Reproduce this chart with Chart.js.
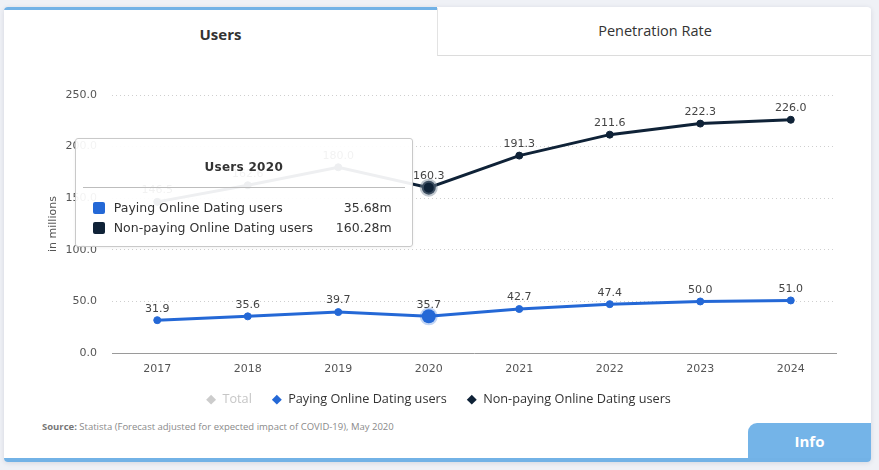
<!DOCTYPE html>
<html><head><meta charset="utf-8">
<script src="https://cdn.jsdelivr.net/npm/chart.js@4/dist/chart.umd.min.js"></script>
<style>
html,body{margin:0;padding:0;width:879px;height:470px;overflow:hidden;background:#eff1f6;font-family:'Open Sans',sans-serif;}
#card{position:absolute;left:4px;top:7px;width:867px;height:455px;background:#fff;border-radius:4px;box-shadow:0 1px 5px rgba(40,50,80,0.13);overflow:hidden;}
#tab1{position:absolute;left:0;top:0;width:433px;height:45px;border-top:3px solid #72b2e6;text-align:center;font-weight:700;font-size:15px;color:#333;line-height:48px;}
#tab2{position:absolute;left:433px;top:1px;width:434px;height:47px;border-left:1px solid #e3e3e3;border-bottom:1px solid #dcdcdc;text-align:center;font-size:14.5px;color:#333;line-height:46px;background:#fff;}
#bottom{position:absolute;left:0;bottom:0;width:867px;height:4px;background:#72b2e6;}
#info{position:absolute;right:0;bottom:4px;width:123px;height:35px;background:#74b4e8;border-top-left-radius:9px;color:#fff;font-weight:700;font-size:15px;text-align:center;line-height:37px;}
#source{position:absolute;left:42px;top:420px;font-size:9.5px;color:#8a8a8a;}
#source b{color:#777;font-weight:700;}
#wrap{position:absolute;left:0;top:55px;width:879px;height:365px;}
#tt{position:absolute;width:338px;box-sizing:border-box;background:rgba(255,255,255,0.93);border:1px solid #c9c9c9;border-radius:3px;padding:0 7px 8px 7px;font-family:'DejaVu Sans',sans-serif;color:#333;opacity:0;box-shadow:0 1px 3px rgba(0,0,0,0.06);}
#tt .t{margin-top:20px;line-height:16px;padding-bottom:12px;border-bottom:1px solid #bdbdbd;text-align:center;font-weight:700;font-size:12px;letter-spacing:0.3px;}
#tt .rows{padding:10px 13px 0 10px;}
#tt .r{height:20px;display:flex;align-items:center;font-size:12.5px;}
#tt .sq{width:12px;height:12px;border-radius:2px;margin-right:9px;flex:none;}
#tt .n{flex:1;}
</style></head>
<body>
<div id="card">
  <div id="tab1">Users</div>
  <div id="tab2">Penetration Rate</div>
  <div id="info">Info</div>
  <div id="bottom"></div>
</div>
<div id="source"><b>Source:</b> Statista (Forecast adjusted for expected impact of COVID-19), May 2020</div>
<div id="wrap"><canvas id="c"></canvas></div>
<div id="tt"></div>
<script>
const years = ['2017','2018','2019','2020','2021','2022','2023','2024'];
const totalUsers = [178.4, 198.2, 219.7, 195.96, 234.0, 259.0, 272.3, 277.0];
const payingUsers = [31.9, 35.6, 39.7, 35.68, 42.7, 47.4, 50.0, 51.0];
const nonPayingUsers = [146.5, 162.6, 180.0, 160.28, 191.3, 211.6, 222.3, 226.0];
const yTicks = [0, 50, 100, 150, 200, 250];
const activeIndex = 3;

const BLUE = '#2468d6', DARK = '#0f2237';

const labelPlugin = {
  id: 'valueLabels',
  afterDatasetsDraw(chart) {
    const ctx = chart.ctx;
    ctx.save();
    ctx.font = '11px "DejaVu Sans"';
    ctx.fillStyle = '#444';
    ctx.textAlign = 'center';
    ctx.textBaseline = 'bottom';
    chart.data.datasets.forEach((ds, i) => {
      const meta = chart.getDatasetMeta(i);
      if (!chart.isDatasetVisible(i)) return;
      meta.data.forEach((pt, j) => {
        ctx.fillText(ds.data[j].toFixed(1), pt.x, pt.y - 6);
      });
    });
    ctx.restore();
  }
};

function externalTooltip(context) {
  const {chart, tooltip} = context;
  const el = document.getElementById('tt');
  if (tooltip.opacity === 0 || !tooltip.dataPoints || !tooltip.dataPoints.length) { el.style.opacity = 0; return; }
  let html = '<div class="t">' + tooltip.title.join(' ') + '</div><div class="rows">';
  tooltip.dataPoints.forEach(dp => {
    html += '<div class="r"><span class="sq" style="background:' + dp.dataset.borderColor + '"></span><span class="n">' +
      dp.dataset.label + '</span><span>' + dp.raw.toFixed(2) + 'm</span></div>';
  });
  html += '</div>';
  el.innerHTML = html;
  const wrap = document.getElementById('wrap');
  const ref = tooltip.dataPoints[tooltip.dataPoints.length - 1].element;
  el.style.left = (wrap.offsetLeft + ref.x - 16 - el.offsetWidth) + 'px';
  el.style.top = (wrap.offsetTop + ref.y - 50) + 'px';
  el.style.opacity = 1;
}

const chart = new Chart(document.getElementById('c'), {
  type: 'line',
  data: {
    labels: years,
    datasets: [
      { label: 'Total', data: totalUsers, hidden: true, borderColor: '#cccccc', backgroundColor: '#cccccc',
        borderWidth: 3, pointRadius: 4 },
      { label: 'Paying Online Dating users', data: payingUsers, borderColor: BLUE, backgroundColor: BLUE,
        pointBackgroundColor: BLUE, pointBorderColor: BLUE, borderWidth: 3, pointRadius: 3.5, pointBorderWidth: 1,
        pointHoverRadius: 7, pointHoverBorderWidth: 4, pointHoverBackgroundColor: BLUE, pointHoverBorderColor: 'rgba(36,104,214,0.28)' },
      { label: 'Non-paying Online Dating users', data: nonPayingUsers, borderColor: DARK, backgroundColor: DARK,
        pointBackgroundColor: DARK, pointBorderColor: DARK, borderWidth: 3, pointRadius: 3.5, pointBorderWidth: 1,
        pointHoverRadius: 7, pointHoverBorderWidth: 4, pointHoverBackgroundColor: DARK, pointHoverBorderColor: 'rgba(120,135,150,0.45)' }
    ]
  },
  options: {
    responsive: true,
    maintainAspectRatio: false,
    animation: false,
    events: [],
    layout: { padding: { left: 41, right: 43, top: 40, bottom: 4 } },
    scales: {
      x: {
        offset: true,
        grid: { display: false, drawTicks: false },
        border: { display: true, color: '#9a9a9a', width: 1 },
        ticks: { color: '#555', font: { family: 'DejaVu Sans', size: 11 }, padding: 9 },
        afterFit(scale) { scale.height -= 11; }
      },
      y: {
        min: 0, max: 250,
        afterBuildTicks(scale) { scale.ticks = yTicks.map(v => ({ value: v })); },
        grid: { color: '#cfcfcf', drawTicks: false, lineWidth: 1 },
        border: { display: false, dash: [1, 3] },
        ticks: { color: '#555', font: { family: 'DejaVu Sans', size: 11 }, padding: 15,
          callback: v => Number(v).toFixed(1) },
        title: { display: true, text: 'in millions', color: '#555', font: { family: 'DejaVu Sans', size: 11 }, padding: { top: 6, bottom: 0 } },
        afterFit(scale) { scale.width = 71; }
      }
    },
    plugins: {
      legend: {
        position: 'bottom',
        labels: {
          usePointStyle: true, boxWidth: 10, boxHeight: 7, padding: 20,
          font: { family: 'Open Sans', size: 12.7 }, color: '#333',
          generateLabels(ch) {
            return ch.data.datasets.map((ds, i) => ({
              text: ds.label,
              fillStyle: ds.hidden ? '#cccccc' : ds.borderColor,
              strokeStyle: ds.hidden ? '#cccccc' : ds.borderColor,
              lineWidth: 0, hidden: false, pointStyle: 'rectRot',
              fontColor: ds.hidden ? '#c6c6c6' : '#333', datasetIndex: i
            }));
          }
        }
      },
      tooltip: {
        enabled: false,
        external: externalTooltip,
        callbacks: { title: items => 'Users ' + items[0].label }
      }
    }
  },
  plugins: [labelPlugin]
});

const act = [{ datasetIndex: 1, index: activeIndex }, { datasetIndex: 2, index: activeIndex }];
chart.tooltip.setActiveElements(act, { x: 0, y: 0 });
chart.setActiveElements(act);
chart.update();
</script>
</body></html>
